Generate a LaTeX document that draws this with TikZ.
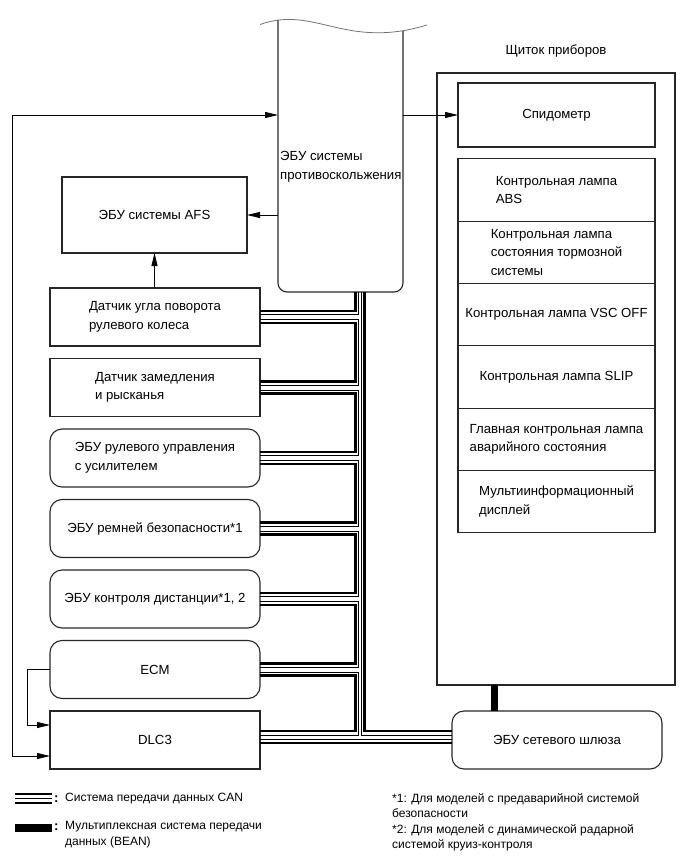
\documentclass[tikz,border=0pt]{standalone}
\usepackage{fontspec}
\setmainfont{Liberation Sans}
\usetikzlibrary{positioning,arrows.meta}

\begin{document}
\begin{tikzpicture}[x=1pt,y=-1pt,
    font=\fontsize{13.2}{18.5}\selectfont,
    >={Triangle[length=13pt,width=6pt]},
    frame/.style={draw=black!85, line width=1.1pt},
    box/.style={frame, inner sep=1pt, outer sep=0pt, align=left},
    unit/.style={box, minimum width=210pt, minimum height=58pt},
    ecuunit/.style={unit, rounded corners=12pt},
    lamp/.style={box, minimum width=197pt, minimum height=62.3pt},
    arr/.style={->, line width=0.8pt},
    canthick/.style={line width=2.8pt},
    canthin/.style={line width=0.8pt},
    bean/.style={line width=7pt},
    node distance=12.5pt]
  \useasboundingbox (0,0) rectangle (690,856);

  \node[minimum width=125pt, minimum height=272pt, inner sep=0pt, outer sep=0pt] (ecu) at (340.5,156) {};
  \draw[frame, rounded corners=9pt] (ecu.north west) -- (ecu.south west) -- (ecu.south east) -- ([yshift=-11pt]ecu.north east);
  \draw[black!55, line width=0.8pt] (260,24.5) .. controls (315,5) and (345,50) .. (427,25);
  \node[anchor=west, align=left, inner sep=2pt, yshift=-11pt] (ecutxt) at (ecu.west) {ЭБУ системы\\противоскольжения};

  \node[frame, minimum width=238pt, minimum height=612pt, inner sep=0pt, outer sep=0pt] (panel) at (556,379) {};
  \node[above=12pt of panel] (paneltitle) {Щиток приборов};
  \node[box, minimum width=197pt, minimum height=64pt, align=center] (speedo) at (556.5,115) {Спидометр};
  \node[lamp] (lamp1) at (556.5,190) {Контрольная лампа\\ABS};
  \node[lamp, below=0pt of lamp1] (lamp2) {Контрольная лампа\\состояния тормозной\\системы};
  \node[lamp, below=0pt of lamp2] (lamp3) {Контрольная лампа VSC OFF};
  \node[lamp, below=0pt of lamp3] (lamp4) {Контрольная лампа SLIP};
  \node[lamp, below=0pt of lamp4] (lamp5) {Главная контрольная лампа\\аварийного состояния};
  \node[lamp, below=0pt of lamp5] (lamp6) {Мультиинформационный\\дисплей};

  \node[box, minimum width=185pt, minimum height=76pt, align=center] (afs) at (154.5,215) {ЭБУ системы AFS};
  \node[unit] (b1) at (155,317) {Датчик угла поворота\\рулевого колеса};
  \node[unit, below=of b1] (b2) {Датчик замедления\\и рысканья};
  \node[ecuunit, below=of b2] (b3) {ЭБУ рулевого управления\\с усилителем};
  \node[ecuunit, below=of b3] (b4) {ЭБУ ремней безопасности*1};
  \node[ecuunit, below=of b4] (b5) {ЭБУ контроля дистанции*1, 2};
  \node[ecuunit, below=of b5] (ecm) {ECM};
  \node[unit, below=of ecm] (dlc) {DLC3};
  \node[ecuunit] (gw) at (557,740) {ЭБУ сетевого шлюза};

  \draw[arr] (ecu.west |- afs) -- (afs.east);
  \draw[arr] (ecu.east |- speedo) -- (speedo.west);
  \draw[arr] (afs.south |- b1.north) -- (afs.south);
  \draw[arr] (ecm.west) -- ++(-23,0) |- ([yshift=15pt]dlc.west);
  \draw[<->, line width=0.8pt] ([yshift=-16pt]dlc.west) -- ++(-38,0) |- (ecu.west |- speedo);

  \coordinate (uk) at (355.3,0);
  \coordinate (ut) at (358.8,0);
  \coordinate (tt) at (361.3,0);
  \coordinate (tk) at (364.6,0);
  \coordinate (bx) at (494,0);
  \draw[canthick] (uk |- ecu.south) |- ([yshift=6pt]b1.east);
  \draw[canthin] (ut |- ecu.south) |- ([yshift=2.5pt]b1.east);
  \foreach \a/\b in {b1/b2,b2/b3,b3/b4,b4/b5,b5/ecm}{
    \draw[canthick] ([yshift=-6pt]\a.east) -- ++(95.3,0) |- ([yshift=6pt]\b.east);
    \draw[canthin] ([yshift=-2.5pt]\a.east) -- ++(98.8,0) |- ([yshift=2.5pt]\b.east);
  }
  \draw[canthick] ([yshift=-6pt]ecm.east) -- ++(95.3,0) |- ([yshift=9pt]dlc.east);
  \draw[canthin] ([yshift=-2.5pt]ecm.east) -- ++(98.8,0) |- ([yshift=5pt]dlc.east);
  \draw[canthick] (tk |- ecu.south) |- ([yshift=9pt]gw.west);
  \draw[canthin] (tt |- ecu.south) |- ([yshift=5pt]gw.west);
  \draw[canthin] ([yshift=1pt]dlc.east) -- ([yshift=1pt]gw.west);
  \draw[canthick] ([yshift=-3pt]dlc.east) -- ([yshift=-3pt]gw.west);
  \draw[bean] (bx |- panel.south) -- (bx |- gw.north);

  \draw[line width=2.2pt] (15,794) -- (52,794);
  \draw[line width=1.2pt] (15,798.5) -- (52,798.5);
  \draw[line width=2.2pt] (15,803) -- (52,803);
  \fill (15,823.5) rectangle (52,831.5);
  \node[anchor=west, inner sep=0pt] (colon1) at (54,799) {\textbf{:}};
  \node[anchor=west, inner sep=0pt, font=\fontsize{12}{16}\selectfont] (cantxt) at (65,799) {Система передачи данных CAN};
  \node[anchor=west, inner sep=0pt] (colon2) at (54,827.5) {\textbf{:}};
  \node[anchor=north west, inner sep=0pt, align=left, font=\fontsize{12}{16.5}\selectfont] (beantxt) at (65,821) {Мультиплексная система передачи\\данных (BEAN)};
  \node[anchor=north west, inner sep=0pt, align=left, font=\fontsize{12}{15.5}\selectfont] (notes) at (392,793) {*1: Для моделей с предаварийной системой\\безопасности\\*2: Для моделей с динамической радарной\\системой круиз-контроля};
\end{tikzpicture}
\end{document}
